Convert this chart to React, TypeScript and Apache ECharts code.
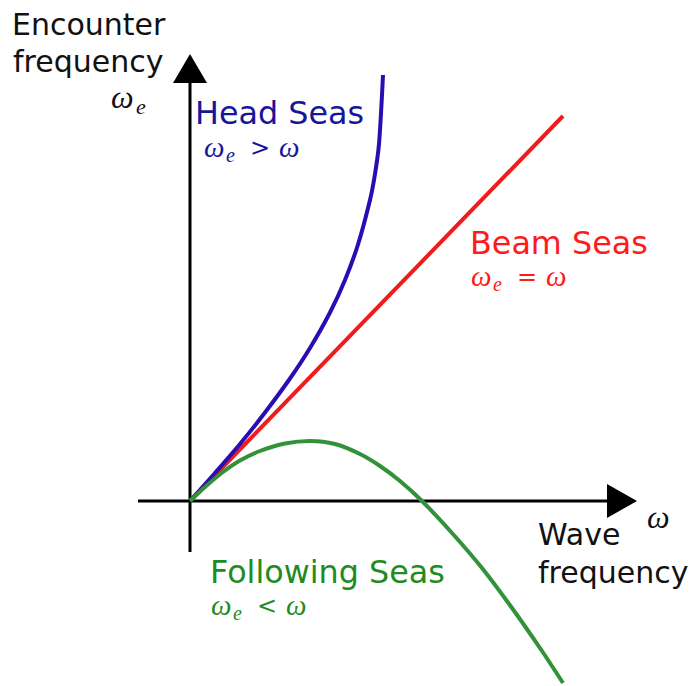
import React, { useEffect, useRef } from "react";
import * as echarts from "echarts";

// Data (ω on x, ω_e on y; arbitrary units)
const headSeas: number[][] = [
  [0, 0], [0.25, 0.28], [0.5, 0.57], [0.75, 0.885], [1.0, 1.225], [1.2, 1.53], [1.4, 1.885],
  [1.55, 2.21], [1.68, 2.565], [1.8, 3.01], [1.85, 3.27], [1.89, 3.57], [1.93, 4.26],
];
const beamSeas: number[][] = [[0, 0], [3.73, 3.85]];
const followingSeas: number[][] = [
  [0, 0], [0.15, 0.14], [0.33, 0.29], [0.5, 0.405], [0.7, 0.5], [0.95, 0.575], [1.2, 0.6],
  [1.45, 0.57], [1.7, 0.47], [1.9, 0.35], [2.1, 0.2], [2.32, 0], [2.62, -0.32], [2.92, -0.67],
  [3.22, -1.07], [3.52, -1.5], [3.73, -1.82],
];
const xAxisLine: number[][] = [[-0.52, 0], [4.17, 0]];
const yAxisLine: number[][] = [[0, -0.51], [0, 4.18]];
const arrowHeads: number[][] = [[4.17, 0, 0], [0, 4.18, 1]];

const BLACK = "#111111";
const BLUE_LINE = "#2a0cb5";
const RED_LINE = "#f01c1c";
const GREEN_LINE = "#33913a";
const BLUE_TEXT = "#16169c";
const RED_TEXT = "#ff1a1a";
const GREEN_TEXT = "#1e8c1e";

const SANS = '"DejaVu Sans", Verdana, sans-serif';
const SERIF = '"Liberation Serif", "DejaVu Serif", serif';

function txt(text: string, x: number, baseline: number, size: number, fill: string, family: string, italic = false, align = "left") {
  const y = baseline - size * 0.34;
  return {
    type: "text",
    x,
    y,
    silent: true,
    style: {
      text,
      fill,
      font: `${italic ? "italic " : ""}${size}px ${family}`,
      textAlign: align,
      textVerticalAlign: "middle",
      verticalAlign: "middle",
    },
  };
}

function mathLabel(x: number, baseline: number, op: string, fill: string) {
  return [
    txt("ω", x - 1, baseline, 29, fill, SERIF, true),
    txt("e", x + 21, baseline + 5, 20, fill, SERIF, true),
    txt(op, x + 55, baseline - 1, 24, fill, SANS, false, "center"),
    txt("ω", x + 74, baseline, 29, fill, SERIF, true),
  ];
}

export default function App() {
  const ref = useRef<HTMLDivElement>(null);
  useEffect(() => {
    if (!ref.current) return;
    const chart = echarts.init(ref.current, null, { renderer: "svg" });
    const lineSeries = (data: number[][], color: string, width: number, smooth: number | boolean) => ({
      type: "line",
      data,
      symbol: "none",
      smooth,
      silent: true,
      lineStyle: { color, width, cap: "butt" },
    });
    chart.setOption({
      animation: false,
      backgroundColor: "#ffffff",
      grid: { left: 0, right: 0, top: 0, bottom: 0 },
      xAxis: { type: "value", min: -1.9, max: 5.05, show: false },
      yAxis: { type: "value", min: -1.85, max: 5.01, show: false },
      series: [
        lineSeries(xAxisLine, "#000000", 3, false),
        lineSeries(yAxisLine, "#000000", 3, false),
        {
          type: "custom",
          silent: true,
          data: arrowHeads,
          renderItem: (params: any, api: any) => {
            const p = api.coord([api.value(0), api.value(1)]);
            const dir = api.value(2);
            const pts =
              dir === 0
                ? [[p[0], p[1] - 17], [p[0] + 30, p[1]], [p[0], p[1] + 17]]
                : [[p[0] - 17, p[1]], [p[0], p[1] - 29], [p[0] + 17, p[1]]];
            return { type: "polygon", shape: { points: pts }, style: { fill: "#000000" } };
          },
        },
        lineSeries(beamSeas, RED_LINE, 4, false),
        lineSeries(headSeas, BLUE_LINE, 4, 0.3),
        lineSeries(followingSeas, GREEN_LINE, 4, 0.3),
      ],
      graphic: [
        txt("Encounter", 12, 35, 30, BLACK, SANS),
        txt("frequency", 13, 72, 30, BLACK, SANS),
        txt("ω", 111, 108, 32, BLACK, SERIF, true),
        txt("e", 136, 114, 22, BLACK, SERIF, true),
        txt("Head Seas", 195, 123, 31.8, BLUE_TEXT, SANS),
        ...mathLabel(205, 157, ">", BLUE_TEXT),
        txt("Beam Seas", 470, 253, 31.8, RED_TEXT, SANS),
        ...mathLabel(472, 286, "=", RED_TEXT),
        txt("Following Seas", 210, 582, 31.8, GREEN_TEXT, SANS),
        ...mathLabel(212, 615, "<", GREEN_TEXT),
        txt("Wave", 538, 545, 30, BLACK, SANS),
        txt("frequency", 538, 583, 30, BLACK, SANS),
        txt("ω", 647, 528, 32, BLACK, SERIF, true),
      ],
    });
    return () => chart.dispose();
  }, []);
  return (
    <div
      ref={ref}
      style={{ position: "fixed", left: 0, top: 0, width: 695, height: 686, background: "#fff" }}
    />
  );
}
